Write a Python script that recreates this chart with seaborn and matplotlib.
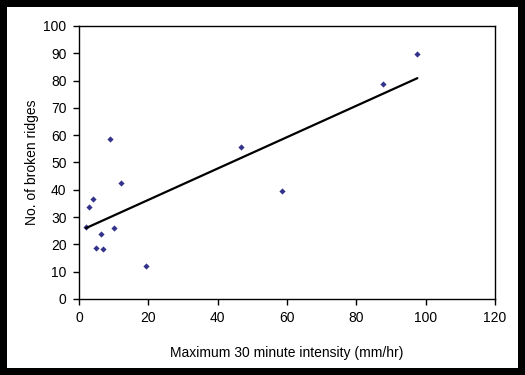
import numpy as np
import pandas as pd
import matplotlib
matplotlib.use('Agg')
import matplotlib.pyplot as plt
import seaborn as sns

intensity = [2.0, 3.0, 4.1, 5.0, 6.2, 7.0, 9.0, 10.2, 12.2, 19.2, 46.8, 58.6, 87.8, 97.6]
ridges = [26.5, 33.6, 36.5, 18.7, 23.7, 18.2, 58.5, 25.9, 42.4, 12.0, 55.6, 39.4, 78.6, 89.6]
df = pd.DataFrame({'intensity': intensity, 'ridges': ridges})

sns.set_theme(style="white")
plt.rcParams['font.family'] = ['Liberation Sans', 'DejaVu Sans']

fig = plt.figure(figsize=(5.25, 3.75), dpi=100, facecolor='white',
                 edgecolor='black', linewidth=10)
ax = fig.add_axes([0.1505, 0.2027, 0.7924, 0.728])

sns.regplot(data=df, x='intensity', y='ridges', ci=None, ax=ax,
            marker='D', truncate=True,
            scatter_kws={'s': 10, 'color': '#000070', 'linewidths': 0},
            line_kws={'color': 'black', 'linewidth': 1.6})

ax.set_xlim(0, 120)
ax.set_ylim(0, 100)
ax.set_xticks(range(0, 121, 20))
ax.set_yticks(range(0, 101, 10))
ax.tick_params(axis='both', which='both', direction='out', length=4, width=1,
               color='black', labelsize=10, labelcolor='black', pad=5,
               bottom=True, left=True, top=False, right=False)
for s in ax.spines.values():
    s.set_color('black')
    s.set_linewidth(1)
ax.set_xlabel('Maximum 30 minute intensity (mm/hr)', fontsize=10, color='black', labelpad=15)
ax.set_ylabel('No. of broken ridges', fontsize=10, color='black', labelpad=3)

fig.savefig('out.png', dpi=100, facecolor='white', edgecolor='black')
